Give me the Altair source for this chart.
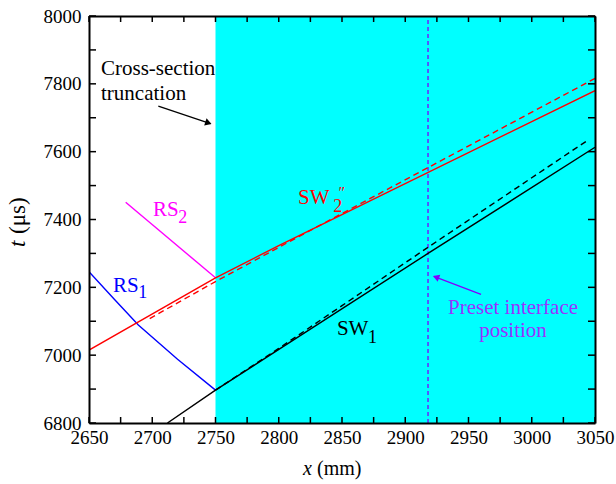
import altair as alt
import pandas as pd

# ---------------- data ----------------
red_solid_x = [2650, 2750, 2800, 3050]
red_solid_t = [7015, 7228, 7323, 7780]
red_dash_x = [2698, 2750, 2810, 2918, 3050]
red_dash_t = [7108, 7217, 7338, 7553, 7816]
black_solid_x = [2712, 2750, 2918, 3050]
black_solid_t = [6800, 6897, 7300, 7613]
black_dash_x = [2750, 2800, 2850, 2918, 3044]
black_dash_t = [6897, 7020, 7146, 7318, 7633]
rs1_x = [2650, 2670, 2689, 2720, 2750]
rs1_t = [7246, 7165, 7089, 6988, 6897]
rs2_x = [2679, 2750]
rs2_t = [7451, 7228]

interface_x = 2918
zone_x = [2750, 3050]
x_domain = [2650, 3050]
t_domain = [6800, 8000]
x_tick_labels = [2650, 2700, 2750, 2800, 2850, 2900, 2950, 3000, 3050]
y_tick_labels = [6800, 7000, 7200, 7400, 7600, 7800, 8000]
x_ticks = list(range(2650, 3051, 25))
y_ticks = list(range(6800, 8001, 100))

# text annotations (data coordinates)
labels_left = pd.DataFrame({
    "x": [2659.5, 2659.5, 2700.6, 2669.0, 2815.2, 2846.0],
    "t": [7826, 7752, 7410, 7187, 7447, 7059.5],
    "text": ["Cross-section", "truncation", "RS", "RS", "SW", "SW"],
    "color": ["#000000", "#000000", "#ff00ff", "#0000ff", "#ff0000", "#000000"],
})
labels_center = pd.DataFrame({
    "x": [2985.2, 2985.2],
    "t": [7121, 7054],
    "text": ["Preset interface", "position"],
    "color": ["#9933ff", "#9933ff"],
})
subs = pd.DataFrame({
    "x": [2720.5, 2689.0, 2843.0, 2870.6],
    "t": [7390, 7168, 7422, 7036],
    "text": ["2", "1", "2", "1"],
    "color": ["#ff00ff", "#0000ff", "#ff0000", "#000000"],
})
sup = pd.DataFrame({"x": [2846.5], "t": [7462], "text": ["\u2033"]})

arrows = pd.DataFrame({
    "x": [2704.8, 2959.9], "t": [7734.5, 7179],
    "x2": [2746.0, 2922.5], "t2": [7682.5, 7232],
    "color": ["#000000", "#8000ff"],
})
heads = pd.DataFrame({
    "x": [2744.4, 2924.3], "t": [7684.8, 7229.9],
    "angle": [18.6, 200.7], "color": ["#000000", "#8000ff"],
})

FONT = "'Liberation Serif', 'Times New Roman', Times, serif"
W, H = 506, 407

xs = alt.Scale(domain=x_domain, nice=False, zero=False)
ys = alt.Scale(domain=t_domain, nice=False, zero=False)


def line(xv, tv, color, dash=None):
    df = pd.DataFrame({"x": xv, "t": tv})
    kw = dict(color=color, strokeWidth=1.4, clip=True)
    if dash:
        kw["strokeDash"] = dash
    return alt.Chart(df).mark_line(**kw).encode(
        x=alt.X("x:Q", scale=xs, axis=None),
        y=alt.Y("t:Q", scale=ys, axis=None),
        order=alt.Order("x:Q"),
    )


zone = alt.Chart(pd.DataFrame({"x": [zone_x[0]], "x2": [zone_x[1]],
                               "t": [t_domain[0]], "t2": [t_domain[1]]})).mark_rect(
    color="#00ffff").encode(
    x=alt.X("x:Q", scale=xs, axis=alt.Axis(
        values=x_tick_labels, format="d", labelFont=FONT, labelFontSize=19, labelColor="black",
        labelPadding=5, ticks=False, grid=False, title=None, domain=True,
        domainColor="black", domainWidth=2, zindex=1, labelFlush=False)),
    x2="x2:Q",
    y=alt.Y("t:Q", scale=ys, axis=alt.Axis(
        values=y_tick_labels, format="d", labelFont=FONT, labelFontSize=19, labelColor="black",
        labelPadding=8, ticks=False, grid=False, title=None, domain=True,
        domainColor="black", domainWidth=2, zindex=1, labelFlush=False)),
    y2="t2:Q",
)

iface = alt.Chart(pd.DataFrame({"x": [interface_x], "t": [t_domain[0]], "t2": [t_domain[1]]})).mark_rule(
    color="#8000ff", strokeWidth=1.3, strokeDash=[4, 3]).encode(
    x=alt.X("x:Q", scale=xs, axis=None),
    y=alt.Y("t:Q", scale=ys, axis=None), y2="t2:Q")

arrow_lines = alt.Chart(arrows).mark_rule(strokeWidth=1.3).encode(
    x=alt.X("x:Q", scale=xs, axis=None), y=alt.Y("t:Q", scale=ys, axis=None),
    x2="x2:Q", y2="t2:Q", color=alt.Color("color:N", scale=None))
arrow_heads = alt.Chart(heads).mark_point(shape="triangle-right", filled=True, size=55, opacity=1).encode(
    x=alt.X("x:Q", scale=xs, axis=None), y=alt.Y("t:Q", scale=ys, axis=None),
    angle=alt.Angle("angle:Q", scale=None), color=alt.Color("color:N", scale=None))

text_left = alt.Chart(labels_left).mark_text(font=FONT, fontSize=21, baseline="alphabetic", align="left").encode(
    x=alt.X("x:Q", scale=xs, axis=None), y=alt.Y("t:Q", scale=ys, axis=None),
    text="text:N", color=alt.Color("color:N", scale=None))
text_center = alt.Chart(labels_center).mark_text(font=FONT, fontSize=21, baseline="alphabetic", align="center").encode(
    x=alt.X("x:Q", scale=xs, axis=None), y=alt.Y("t:Q", scale=ys, axis=None),
    text="text:N", color=alt.Color("color:N", scale=None))
text_sub = alt.Chart(subs).mark_text(font=FONT, fontSize=18, baseline="alphabetic", align="left").encode(
    x=alt.X("x:Q", scale=xs, axis=None), y=alt.Y("t:Q", scale=ys, axis=None),
    text="text:N", color=alt.Color("color:N", scale=None))
text_sup = alt.Chart(sup).mark_text(font=FONT, fontSize=16, fontStyle="italic", baseline="alphabetic",
                                    align="left", color="#ff0000").encode(
    x=alt.X("x:Q", scale=xs, axis=None), y=alt.Y("t:Q", scale=ys, axis=None), text="text:N")

# inward ticks on all four sides
xt = pd.DataFrame({"x": x_ticks})
yt = pd.DataFrame({"t": y_ticks})
tick_b = alt.Chart(xt).mark_rule(color="black", strokeWidth=1.5).encode(
    x=alt.X("x:Q", scale=xs, axis=alt.Axis(orient="top", labels=False, ticks=False, grid=False,
                                         title=None, domain=True, domainColor="black",
                                         domainWidth=2, zindex=1)),
    y=alt.value(H), y2=alt.value(H - 6))
tick_t = alt.Chart(xt).mark_rule(color="black", strokeWidth=1.5).encode(
    x=alt.X("x:Q", scale=xs, axis=None), y=alt.value(0), y2=alt.value(6))
tick_l = alt.Chart(yt).mark_rule(color="black", strokeWidth=1.5).encode(
    y=alt.Y("t:Q", scale=ys, axis=alt.Axis(orient="right", labels=False, ticks=False, grid=False,
                                         title=None, domain=True, domainColor="black",
                                         domainWidth=2, zindex=1)),
    x=alt.value(0), x2=alt.value(7))
tick_r = alt.Chart(yt).mark_rule(color="black", strokeWidth=1.5).encode(
    y=alt.Y("t:Q", scale=ys, axis=None), x=alt.value(W), x2=alt.value(W - 7))

# axis titles (mixed italic)
xt_i = alt.Chart(pd.DataFrame({"s": ["x"]})).mark_text(
    font=FONT, fontSize=20, fontStyle="italic", align="left", baseline="alphabetic").encode(
    text="s:N", x=alt.value(214), y=alt.value(459))
xt_r = alt.Chart(pd.DataFrame({"s": ["(mm)"]})).mark_text(
    font=FONT, fontSize=20, align="left", baseline="alphabetic").encode(
    text="s:N", x=alt.value(228), y=alt.value(459))
yt_i = alt.Chart(pd.DataFrame({"s": ["t"]})).mark_text(
    font=FONT, fontSize=23, fontStyle="italic", align="left", baseline="alphabetic", angle=270).encode(
    text="s:N", x=alt.value(-64), y=alt.value(231))
yt_r = alt.Chart(pd.DataFrame({"s": ["(\u03bcs)"]})).mark_text(
    font=FONT, fontSize=23, align="left", baseline="alphabetic", angle=270).encode(
    text="s:N", x=alt.value(-64), y=alt.value(218))

chart = alt.layer(
    zone, iface,
    line(rs1_x, rs1_t, "#0000ff"),
    line(rs2_x, rs2_t, "#ff00ff"),
    line(red_dash_x, red_dash_t, "#ff0000", [6, 4]),
    line(red_solid_x, red_solid_t, "#ff0000"),
    line(black_dash_x, black_dash_t, "#000000", [6, 4]),
    line(black_solid_x, black_solid_t, "#000000"),
    arrow_lines, arrow_heads,
    text_left, text_center, text_sub, text_sup,
    tick_b, tick_t, tick_l, tick_r,
    xt_i, xt_r, yt_i, yt_r,
).resolve_axis(x="independent", y="independent").properties(
    width=W, height=H,
    autosize=alt.AutoSizeParams(type="none"),
    padding={"left": 89, "top": 16, "right": 21, "bottom": 61},
).configure_view(stroke=None).configure(background="white")

chart.save("out.html", embed_options={"renderer": "svg", "actions": False})
